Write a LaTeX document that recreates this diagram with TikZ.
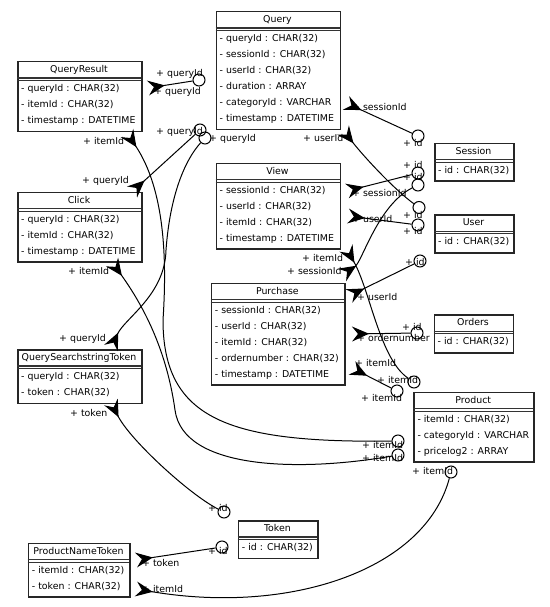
\documentclass[tikz,border=0pt]{standalone}
\usepackage{fontspec}
\setmainfont{DejaVu Sans}
\usetikzlibrary{arrows.meta,calc}
\tikzset{
  txt/.style={font=\fontsize{9.4}{11}\selectfont, inner sep=0pt, text=black},
  tbl/.style={draw=black!85, line width=1.5pt, inner sep=0pt, fill=white},
  sepa/.style={draw=black!80, line width=1.4pt},
  sepb/.style={draw=black!80, line width=0.8pt},
  fk/.style={draw=black, line width=1pt, {Stealth[reversed, length=17pt, width=15pt, inset=6pt]}-},
  fkc/.style={circle, draw=black, line width=1pt, minimum size=12pt, inner sep=0pt},
}
\newcommand\ertable[7]{%
  \pgfmathsetmacro\ertH{37.7+16*(#5-1)}%
  \node[tbl, minimum width=#4pt, minimum height=\ertH pt, anchor=north west] (#1) at (#2,#3) {};
  \node[txt, anchor=base] (#1-title) at (#2+#4/2, #3+11.3) {#6};
  \draw[sepa] (#2,#3+17) -- (#2+#4,#3+17);
  \draw[sepb] (#2,#3+19.4) -- (#2+#4,#3+19.4);
  \foreach \r [count=\i] in {#7} {
    \node[txt, anchor=base west] (#1-r\i) at (#2+4, #3+14.5+16*\i) {\r};
  }
}
\newcommand\erlbl[4]{\node[txt, anchor=base west] (#1) at (#2,#3+3.4) {#4};}
\begin{document}
\begin{tikzpicture}[x=1pt, y=-1pt]
\fill[white] (0,0) rectangle (549,607);
\useasboundingbox (0,0) rectangle (549,607);

% tables
\ertable{qr}{17}{61}{124}{3}{QueryResult}{- queryId : CHAR(32), - itemId : CHAR(32), - timestamp : DATETIME}
\ertable{query}{215.5}{11}{124}{6}{Query}{- queryId : CHAR(32), - sessionId : CHAR(32), - userId : CHAR(32), - duration : ARRAY, - categoryId : VARCHAR, - timestamp : DATETIME}
\ertable{session}{434}{142.7}{79}{1}{Session}{- id : CHAR(32)}
\ertable{user}{434}{214.3}{79}{1}{User}{- id : CHAR(32)}
\ertable{view}{215.5}{162.7}{124}{4}{View}{- sessionId : CHAR(32), - userId : CHAR(32), - itemId : CHAR(32), - timestamp : DATETIME}
\ertable{click}{17}{191.7}{124}{3}{Click}{- queryId : CHAR(32), - itemId : CHAR(32), - timestamp : DATETIME}
\ertable{purchase}{210.7}{282.7}{133.3}{5}{Purchase}{- sessionId : CHAR(32), - userId : CHAR(32), - itemId : CHAR(32), - ordernumber : CHAR(32), - timestamp : DATETIME}
\ertable{orders}{433.5}{314.3}{79}{1}{Orders}{- id : CHAR(32)}
\ertable{qst}{17}{349}{124}{2}{QuerySearchstringToken}{- queryId : CHAR(32), - token : CHAR(32)}
\ertable{product}{413.3}{391.7}{120}{3}{Product}{- itemId : CHAR(32), - categoryId : VARCHAR, - pricelog2 : ARRAY}
\ertable{token}{237.7}{520}{79.5}{1}{Token}{- id : CHAR(32)}
\ertable{pnt}{27.7}{542.7}{101.6}{2}{ProductNameToken}{- itemId : CHAR(32), - token : CHAR(32)}

% circle ends
\node[fkc] (c1) at (199,80) {};
\node[fkc] (c2) at (200,130) {};
\node[fkc] (c3) at (205,138) {};
\node[fkc] (c4) at (398,441) {};
\node[fkc] (c5) at (418,136) {};
\node[fkc] (c6) at (419,207.5) {};
\node[fkc] (c7) at (418,173) {};
\node[fkc] (c8) at (418,225) {};
\node[fkc] (c9) at (414,382) {};
\node[fkc] (c10) at (418,185) {};
\node[fkc] (c11) at (420,261) {};
\node[fkc] (c12) at (417,333) {};
\node[fkc] (c13) at (397,391) {};
\node[fkc] (c14) at (224,512) {};
\node[fkc] (c15) at (222,547) {};
\node[fkc] (c16) at (451,472) {};
\node[fkc] (c17) at (398,455) {};

% arrow ends
\coordinate (a1) at (148,88);
\coordinate (a2) at (132,192);
\coordinate (a3) at (111,348);
\coordinate (a4) at (127,133);
\coordinate (a5) at (346,103);
\coordinate (a6) at (343,130);
\coordinate (a7) at (347,191);
\coordinate (a8) at (348,216);
\coordinate (a9) at (346,248);
\coordinate (a10) at (342,275);
\coordinate (a11) at (349,296);
\coordinate (a12) at (352,334);
\coordinate (a13) at (352,368);
\coordinate (a14) at (111,402);
\coordinate (a15) at (136,560);
\coordinate (a16) at (136,589);
\coordinate (a17) at (112,262);

% connectors
\draw[fk] (a1) -- (c1);
\draw[fk] (a2) -- (c2);
\draw[fk] (a3) .. controls (125,318) and (165,295) .. (166,250) .. controls (170,195) and (185,160) .. (c3);
\draw[fk] (a4) .. controls (165,190) and (167,260) .. (163,320) .. controls (163,420) and (230,443) .. (c4);
\draw[fk] (a5) -- (c5);
\draw[fk] (a6) .. controls (365,158) and (395,190) .. (c6);
\draw[fk] (a7) -- (c7);
\draw[fk] (a8) -- (c8);
\draw[fk] (a9) .. controls (370,290) and (380,360) .. (c9);
\draw[fk] (a10) .. controls (362,262) and (378,205) .. (c10);
\draw[fk] (a11) -- (c11);
\draw[fk] (a12) -- (c12);
\draw[fk] (a13) -- (c13);
\draw[fk] (a14) .. controls (130,440) and (190,495) .. (c14);
\draw[fk] (a15) -- (c15);
\draw[fk] (a16) .. controls (290,615) and (425,570) .. (c16);
\draw[fk] (a17) .. controls (150,315) and (168,360) .. (175,410) .. controls (183,470) and (300,472) .. (c17);

% labels
\erlbl{l1a}{156}{73}{+ queryId}
\erlbl{l1b}{154}{91}{+ queryId}
\erlbl{l2a}{82}{180}{+ queryId}
\erlbl{l2b}{156}{131}{+ queryId}
\erlbl{l3a}{59}{338}{+ queryId}
\erlbl{l3b}{209}{138}{+ queryId}
\erlbl{l4a}{83}{141}{+ itemId}
\erlbl{l4b}{362}{445}{+ itemId}
\erlbl{l17a}{68}{271}{+ itemId}
\erlbl{l17b}{362}{458}{+ itemId}
\erlbl{l5a}{352}{107.5}{+ sessionId}
\erlbl{l5b}{403}{143}{+ id}
\erlbl{l6a}{303}{138}{+ userId}
\erlbl{l6b}{403}{215}{+ id}
\erlbl{l7a}{352}{193.5}{+ sessionId}
\erlbl{l7b}{403}{165}{+ id}
\erlbl{l8a}{352}{219.5}{+ userId}
\erlbl{l8b}{403}{231}{+ id}
\erlbl{l9a}{302}{258}{+ itemId}
\erlbl{l9b}{377}{380}{+ itemId}
\erlbl{l10a}{287}{271}{+ sessionId}
\erlbl{l10b}{403}{177}{+ id}
\erlbl{l11a}{357}{297.5}{+ userId}
\erlbl{l11b}{405}{262}{+ id}
\erlbl{l12a}{357}{338}{+ ordernumber}
\erlbl{l12b}{402}{327}{+ id}
\erlbl{l13a}{355}{363}{+ itemId}
\erlbl{l13b}{361}{398}{+ itemId}
\erlbl{l14a}{70}{413}{+ token}
\erlbl{l14b}{208}{508}{+ id}
\erlbl{l15a}{142}{563.5}{+ token}
\erlbl{l15b}{208}{551}{+ id}
\erlbl{l16a}{142}{589}{+ itemId}
\erlbl{l16b}{412}{471}{+ itemId}
\end{tikzpicture}
\end{document}
